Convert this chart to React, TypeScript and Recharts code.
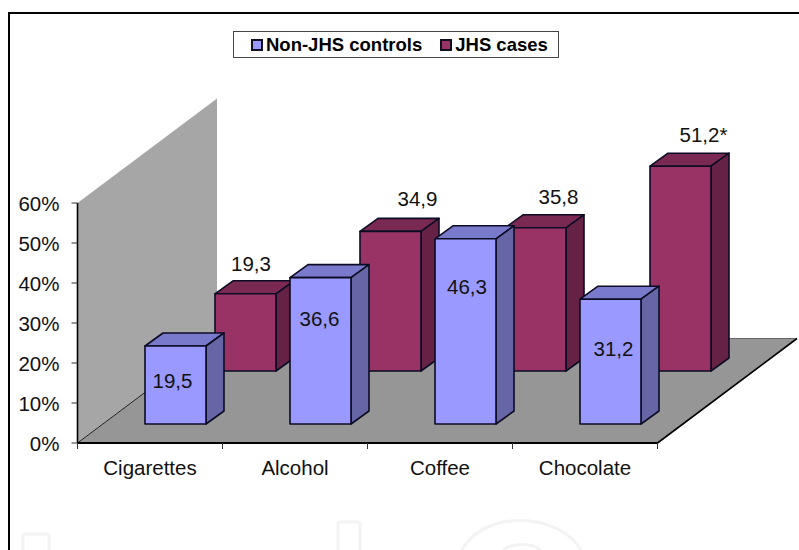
import { BarChart, Bar, XAxis, YAxis, Legend, LabelList, ReferenceArea } from "recharts";

const categories = ["Cigarettes", "Alcohol", "Coffee", "Chocolate"];
const controls = [19.5, 36.6, 46.3, 31.2];
const cases = [19.3, 34.9, 35.8, 51.2];
const caseMarks = ["", "", "", "*"];
const percentTicks = [0, 10, 20, 30, 40, 50, 60];
const seriesNames = ["Non-JHS controls", "JHS cases"];

const data = categories.map((name, i) => ({
  name,
  controls: controls[i],
  cases: cases[i],
}));

const FONT = "'Liberation Sans', Arial, sans-serif";
const FONT_SIZE = 20.5;
const BAR_WIDTH = 61;

// oblique projection of the 3D box
const floorDepth = { dx: 139.5, dy: -104.5 };
const barDepth = { dx: 18, dy: -13 };
const BAND = 145;

const controlsStyle = {
  face: "#9999ff",
  top: "#7a7acc",
  side: "#6666a6",
  shift: { dx: 25.5, dy: -19 },
  // labels sit by hand inside the bars
  labelDx: [-3, -1, 1.5, 3],
  labelDy: [34, 41, 48, 49],
};
const casesStyle = {
  face: "#993366",
  top: "#7a2952",
  side: "#662244",
  shift: { dx: 95.5, dy: -72 },
  labelDx: [5.5, 27, 23, 23],
  labelDy: [-30, -33, -31, -32],
};

const box3d = (s: typeof controlsStyle) => (props: any) => {
  const { x, y, width, height } = props;
  const left = x + s.shift.dx;
  const right = left + width;
  const top = y + s.shift.dy;
  const base = top + height;
  const { dx, dy } = barDepth;
  const edge = { stroke: "#0c0c24", strokeWidth: 1.6, strokeLinejoin: "round" as const };
  return (
    <g>
      <polygon
        points={`${left},${top} ${left + dx},${top + dy} ${right + dx},${top + dy} ${right},${top}`}
        fill={s.top}
        {...edge}
      />
      <polygon
        points={`${right},${top} ${right + dx},${top + dy} ${right + dx},${base + dy} ${right},${base}`}
        fill={s.side}
        {...edge}
      />
      <rect x={left} y={top} width={width} height={height} fill={s.face} {...edge} />
    </g>
  );
};

const barLabel = (s: typeof controlsStyle, marks?: string[]) => (props: any) => {
  const { value, index } = props;
  const box = props.viewBox ?? props;
  const text = Number(value).toFixed(1).replace(".", ",") + (marks ? marks[index] : "");
  return (
    <text
      x={box.x + box.width / 2 + s.shift.dx + s.labelDx[index]}
      y={box.y + s.shift.dy + s.labelDy[index]}
      textAnchor="middle"
      dominantBaseline="central"
      fontFamily={FONT}
      fontSize={FONT_SIZE}
      fill="#111"
    >
      {text}
    </text>
  );
};

const Wall = ({ x, y, height }: any) => (
  <polygon
    points={`${x},${y + height} ${x},${y} ${x + floorDepth.dx},${y + floorDepth.dy} ${x + floorDepth.dx},${
      y + height + floorDepth.dy
    }`}
    fill="#a6a6a6"
  />
);

const Floor = ({ x, y, width, height }: any) => {
  const b = y + height;
  const { dx, dy } = floorDepth;
  return (
    <g>
      <polygon points={`${x},${b} ${x + width},${b} ${x + width + dx},${b + dy} ${x + dx},${b + dy}`} fill="#969696" />
      <line x1={x} y1={b} x2={x + dx} y2={b + dy} stroke="#222" strokeWidth={1} />
      <line x1={x + dx} y1={b + dy} x2={x + width + dx} y2={b + dy} stroke="#666" strokeWidth={1} />
      <line x1={x + width} y1={b} x2={x + width + dx} y2={b + dy} stroke="#000" strokeWidth={1.6} />
    </g>
  );
};

// ticks fall between the categories, so the mark is drawn at the band edge
const CategoryTick = ({ x, y, payload, index }: any) => (
  <g>
    <line x1={x - BAND / 2} y1={y - 8} x2={x - BAND / 2} y2={y - 2} stroke="#333" />
    {index === categories.length - 1 && (
      <line x1={x + BAND / 2} y1={y - 8} x2={x + BAND / 2} y2={y - 2} stroke="#333" />
    )}
    <text x={x} y={y + 24} textAnchor="middle" fontFamily={FONT} fontSize={FONT_SIZE} fill="#111">
      {payload.value}
    </text>
  </g>
);

const PercentTick = ({ x, y, payload }: any) => (
  <text x={x} y={y + 8} textAnchor="end" fontFamily={FONT} fontSize={FONT_SIZE} fill="#111">
    {`${payload.value}%`}
  </text>
);

const LegendBox = ({ payload }: any) => {
  const items = [...(payload ?? [])].sort((a, b) => seriesNames.indexOf(a.value) - seriesNames.indexOf(b.value));
  return (
    <div
      style={{
        boxSizing: "border-box",
        width: 326,
        height: 27,
        border: "1px solid #444",
        background: "#fff",
        display: "flex",
        alignItems: "center",
        paddingLeft: 17,
        fontFamily: FONT,
        fontSize: 18.5,
        fontWeight: "bold",
        color: "#000",
        whiteSpace: "nowrap",
      }}
    >
      {items.map((item: any, i: number) => (
        <span key={item.value} style={{ display: "flex", alignItems: "center", marginRight: i === 0 ? 18 : 0 }}>
          <span
            style={{
              boxSizing: "border-box",
              width: 12,
              height: 12,
              border: "2px solid #101020",
              background: item.color,
              marginRight: 3,
            }}
          />
          {item.value}
        </span>
      ))}
    </div>
  );
};

export default function App() {
  return (
    <div style={{ position: "absolute", left: 0, top: 0, width: 799, height: 550, overflow: "hidden", background: "#fff" }}>
      {/* faint print marks along the lower edge */}
      <svg width={799} height={550} style={{ position: "absolute", left: 0, top: 0 }}>
        <g fill="none" stroke="#f3f3f3" strokeWidth={3}>
          <path d="M23 552V536q0-2 2-2h22q2 0 2 2v16" />
          <path d="M338 552V524q0-2 2-2h18q2 0 2 2v28" />
          <path d="M461 552C480 510 560 510 582 552" />
          <path d="M502 552C510 542 535 542 542 552" />
        </g>
      </svg>
      <div
        style={{
          position: "absolute",
          left: 8,
          top: 12,
          width: 820,
          height: 580,
          border: "2.5px solid #000",
          boxSizing: "border-box",
        }}
      />
      <div style={{ position: "absolute", left: 0, top: 0 }}>
        <BarChart
          width={799}
          height={550}
          data={data}
          margin={{ top: 203, right: 141.5, bottom: 57, left: 7.5 }}
          barSize={BAR_WIDTH}
          barGap={-BAR_WIDTH}
        >
          <ReferenceArea ifOverflow="visible" shape={Wall} />
          <ReferenceArea ifOverflow="visible" shape={Floor} />
          <XAxis
            dataKey="name"
            height={50}
            tickLine={false}
            tick={CategoryTick}
            interval={0}
            axisLine={{ stroke: "#000", strokeWidth: 2 }}
          />
          <YAxis
            width={70}
            domain={[0, 60]}
            ticks={percentTicks}
            interval={0}
            tickSize={6}
            tickMargin={12}
            tick={PercentTick}
            tickLine={{ stroke: "#333" }}
            axisLine={{ stroke: "#000", strokeWidth: 1.6 }}
          />
          <Legend
            verticalAlign="middle"
            align="center"
            wrapperStyle={{ left: 233, top: 31, width: 326, height: 27 }}
            content={LegendBox}
          />
          <Bar dataKey="cases" name={seriesNames[1]} fill={casesStyle.face} shape={box3d(casesStyle)} isAnimationActive={false}>
            <LabelList dataKey="cases" content={barLabel(casesStyle, caseMarks)} />
          </Bar>
          <Bar dataKey="controls" name={seriesNames[0]} fill={controlsStyle.face} shape={box3d(controlsStyle)} isAnimationActive={false}>
            <LabelList dataKey="controls" content={barLabel(controlsStyle)} />
          </Bar>
        </BarChart>
      </div>
    </div>
  );
}
